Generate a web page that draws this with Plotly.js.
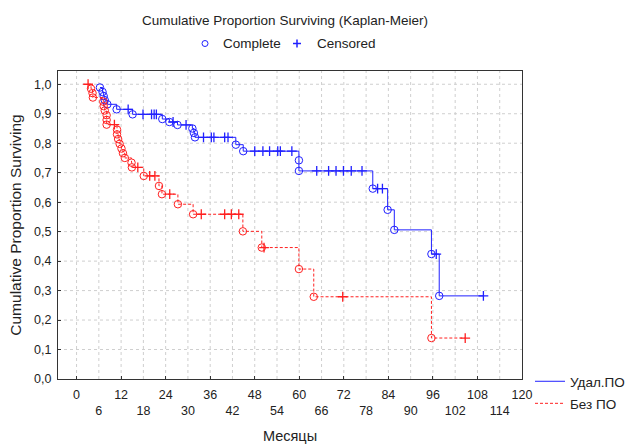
<!DOCTYPE html>
<html>
<head>
<meta charset="utf-8">
<script src="https://cdn.plot.ly/plotly-3.0.1.min.js"></script>
<style>html,body{margin:0;padding:0;background:#fff;}#chart{width:631px;height:445px;}</style>
</head>
<body>
<div id="chart"></div>
<script>
// Group "Удал.ПО" (blue): time in months, cumulative proportion surviving, status (1 = complete, 0 = censored)
const blueTime = [6.3, 7.0, 7.3, 7.6, 8.3, 10.8, 13.9, 15.1, 17.9, 20.2, 20.9, 21.5, 23.1, 25.0, 26.0, 27.2, 29.5, 31.2, 31.6, 31.9, 34.2, 36.3, 37.0, 39.9, 40.8, 42.9, 44.9, 48.0, 50.2, 52.0, 54.2, 54.9, 58.0, 59.9, 59.9, 64.7, 67.9, 69.9, 71.9, 74.0, 76.9, 79.8, 81.1, 82.4, 83.8, 85.6, 95.6, 96.9, 97.7, 109.6];
const blueSurv = [0.989, 0.974, 0.960, 0.946, 0.932, 0.915, 0.915, 0.898, 0.898, 0.898, 0.898, 0.898, 0.882, 0.872, 0.872, 0.862, 0.862, 0.850, 0.835, 0.820, 0.820, 0.820, 0.820, 0.820, 0.820, 0.795, 0.773, 0.773, 0.773, 0.773, 0.773, 0.773, 0.773, 0.742, 0.706, 0.706, 0.706, 0.706, 0.706, 0.706, 0.706, 0.646, 0.646, 0.646, 0.574, 0.506, 0.424, 0.424, 0.282, 0.282];
const blueStatus = [1,1,1,1,1,1,0,1,0,0,0,0,1,1,0,1,0,1,1,1,0,0,0,0,0,1,1,0,0,0,0,0,0,1,1,0,0,0,0,0,0,1,0,0,1,1,1,0,1,0];

// Group "Без ПО" (red)
const redTime = [3.1, 3.9, 4.3, 4.4, 7.2, 7.3, 7.6, 8.1, 8.1, 8.1, 10.2, 10.9, 10.9, 11.2, 11.6, 12.1, 12.5, 13.0, 14.8, 14.9, 16.5, 18.1, 19.7, 21.1, 22.2, 23.0, 25.1, 27.3, 31.4, 33.6, 39.9, 41.7, 43.7, 44.8, 49.9, 50.5, 59.9, 63.9, 71.7, 95.6, 104.7];
const redSurv = [1.0, 0.985, 0.970, 0.955, 0.941, 0.926, 0.911, 0.895, 0.879, 0.863, 0.863, 0.846, 0.830, 0.814, 0.798, 0.782, 0.766, 0.750, 0.734, 0.718, 0.718, 0.689, 0.689, 0.689, 0.655, 0.627, 0.627, 0.593, 0.559, 0.559, 0.559, 0.559, 0.559, 0.501, 0.446, 0.446, 0.373, 0.279, 0.279, 0.139, 0.139];
const redStatus = [0,1,1,1,1,1,1,1,1,1,0,1,1,1,1,1,1,1,1,1,0,1,0,0,1,1,0,1,1,0,0,0,0,1,1,0,1,1,0,1,0];

const seriesNames = ['Удал.ПО', 'Без ПО'];
const xTicksEven = [0, 12, 24, 36, 48, 60, 72, 84, 96, 108, 120];
const xTicksOdd = [6, 18, 30, 42, 54, 66, 78, 90, 102, 114];
const yTicks = [0, 0.1, 0.2, 0.3, 0.4, 0.5, 0.6, 0.7, 0.8, 0.9, 1.0];

const BLUE = '#2020ff';
const RED = '#ff2020';

function pick(arr, status, want) { return arr.filter((v, i) => status[i] === want); }

function groupTraces(t, s, st, name, color, dash, grp, xa) {
  return [
    {x: t, y: s, type: 'scatter', mode: 'lines', name: name, legendgroup: grp,
     line: {shape: 'hv', color: color, width: 1, dash: dash}, hoverinfo: 'skip'},
    {x: pick(t, st, 1), y: pick(s, st, 1), type: 'scatter', mode: 'markers', showlegend: false, legendgroup: grp,
     marker: {symbol: 'circle-open', size: 7.5, color: color, line: {width: 1, color: color}}},
    {x: pick(t, st, 0), y: pick(s, st, 0), type: 'scatter', mode: 'markers', showlegend: false, legendgroup: grp,
     xaxis: xa, marker: {symbol: 'cross-thin-open', size: 7, color: color, line: {width: 1.3, color: color}}}
  ];
}

const data = [].concat(
  groupTraces(blueTime, blueSurv, blueStatus, seriesNames[0], BLUE, 'solid', 'g1', 'x'),
  groupTraces(redTime, redSurv, redStatus, seriesNames[1], RED, '3px,2px', 'g2', 'x2')
);

// pixel helpers for the plot frame (plot area 58..522 x 71..379)
const PL = 58, PR = 522, PT = 71, PB = 379;
const px = v => (v - PL) / (PR - PL);
const py = v => (PB - v) / (PB - PT);

const FONT = 'Liberation Sans, Arial, sans-serif';
const XRANGE = [-5, 120];

const layout = {
  width: 631, height: 445,
  margin: {l: PL, r: 631 - PR, t: PT, b: 445 - PB, pad: 0},
  paper_bgcolor: '#ffffff', plot_bgcolor: '#ffffff',
  font: {family: FONT, size: 12, color: '#222'},
  separators: ', ',
  title: {text: 'Cumulative Proportion Surviving (Kaplan-Meier)', font: {family: FONT, size: 13.5, color: '#222'},
          x: 285 / 631, xanchor: 'center', xref: 'container', y: 1 - 20 / 445, yanchor: 'middle', yref: 'container'},
  xaxis: {
    range: XRANGE, tickmode: 'array', tickvals: xTicksEven, ticktext: xTicksEven.map(String),
    showgrid: false, zeroline: false, showline: true, linecolor: '#333', linewidth: 1, mirror: true,
    ticks: 'inside', ticklen: 3, tickcolor: '#333',
    tickfont: {family: FONT, size: 12.5, color: '#222'}, ticklabelstandoff: 4,
    title: {text: 'Месяцы', font: {family: FONT, size: 14.5, color: '#222'}, standoff: 29}
  },
  xaxis2: {
    overlaying: 'x', anchor: 'y', side: 'bottom', range: XRANGE, tickmode: 'array', tickvals: xTicksOdd,
    ticktext: xTicksOdd.map(String), showgrid: false, zeroline: false, showline: false, ticks: '',
    tickfont: {family: FONT, size: 12.5, color: '#222'}, ticklabelstandoff: 22
  },
  yaxis: {
    range: [0, 1.045], tickmode: 'array', tickvals: yTicks, tickformat: '.1f',
    showgrid: false, zeroline: false, showline: true, linecolor: '#333', linewidth: 1, mirror: true,
    ticks: 'inside', ticklen: 3, tickcolor: '#333',
    tickfont: {family: FONT, size: 12.5, color: '#222'}, ticklabelstandoff: 3,
    title: {text: 'Cumulative Proportion Surviving', font: {family: FONT, size: 15.5, color: '#222'}, standoff: 8}
  },
  showlegend: true,
  legend: {
    xref: 'container', yref: 'container', x: 530 / 631, y: 1 - 366 / 445, xanchor: 'left', yanchor: 'top',
    font: {family: FONT, size: 13.5, color: '#222'}, bgcolor: 'rgba(0,0,0,0)', borderwidth: 0,
    traceorder: 'grouped', tracegroupgap: 1.5, itemwidth: 30
  },
  shapes: [],
  annotations: [
    {xref: 'paper', yref: 'paper', x: px(221), y: py(43.5), xanchor: 'left', yanchor: 'middle', showarrow: false,
     text: 'Complete', font: {family: FONT, size: 13.5, color: '#222'}},
    {xref: 'paper', yref: 'paper', x: px(315), y: py(43.5), xanchor: 'left', yanchor: 'middle', showarrow: false,
     text: 'Censored', font: {family: FONT, size: 13.5, color: '#222'}}
  ]
};

// dotted grid lines every 6 months and every 0.1
const GRID = {color: '#cfcfcf', width: 1, dash: 'dot'};
xTicksEven.concat(xTicksOdd).filter(v => v < 120).forEach(v => layout.shapes.push({type: 'line', xref: 'x', yref: 'paper',
  x0: v, x1: v, y0: 0, y1: 1, line: GRID, layer: 'below'}));
yTicks.filter(v => v > 0).forEach(v => layout.shapes.push({type: 'line', xref: 'paper', yref: 'y', x0: 0, x1: 1, y0: v, y1: v,
  line: GRID, layer: 'below'}));

// symbols of the top key
layout.shapes.push({type: 'circle', xref: 'paper', yref: 'paper', x0: px(202), x1: px(208), y0: py(46.5), y1: py(40.5),
  line: {color: BLUE, width: 1}});
layout.shapes.push({type: 'line', xref: 'paper', yref: 'paper', x0: px(293), x1: px(301), y0: py(43.5), y1: py(43.5),
  line: {color: BLUE, width: 1.5}});
layout.shapes.push({type: 'line', xref: 'paper', yref: 'paper', x0: px(297), x1: px(297), y0: py(39.5), y1: py(47.5),
  line: {color: BLUE, width: 1.5}});

Plotly.newPlot('chart', data, layout, {staticPlot: true, displayModeBar: false});
</script>
</body>
</html>
